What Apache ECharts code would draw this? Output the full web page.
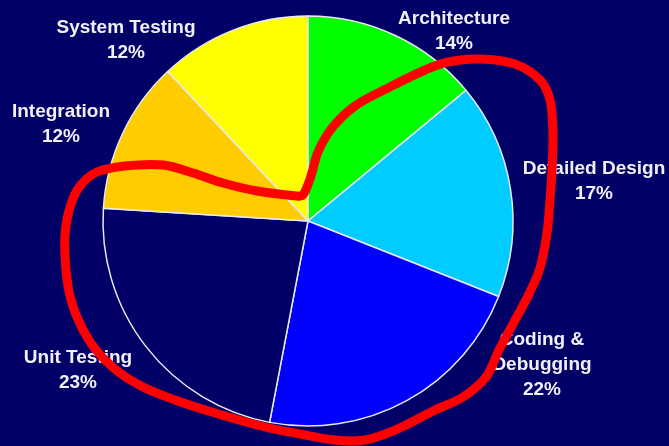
<!DOCTYPE html>
<html>
<head>
<meta charset="utf-8">
<script src="https://cdn.jsdelivr.net/npm/echarts@6/dist/echarts.min.js"></script>
<style>
html,body{margin:0;padding:0;background:#000066;}
#c{width:669px;height:446px;}
</style>
</head>
<body>
<div id="c"></div>
<script>
// Data
var categories = ['Architecture', 'Detailed Design', 'Coding & Debugging', 'Unit Testing', 'Integration', 'System Testing'];
var values = [14, 17, 22, 23, 12, 12];
var sliceColors = ['#00ff00', '#00ccff', '#0000ff', '#000068', '#ffcc00', '#ffff00'];

// Label anchor positions (text block centres), in pixels
var labelPos = [[454, 31], [594, 181], [542, 365], [78, 370], [61, 124], [126, 40]];

// Hand-drawn red annotation loop, in pixels
var annotation = [
  [297,196],[257,191],[223,183],[193,173],[163,165],[125,166],[97,172],[80,186],[70,207],[65,235],
  [66,270],[71,300],[81,326],[96,350],[116,370],[141,386],[175,400],[215,413],[265,427],[300,434],
  [335,440],[365,440],[395,430],[433,411],[463,397],[486,377],[499,350],[514,322],[529,294],[540,268],
  [547,233],[550,200],[552,170],[553,133],[550,100],[540,80],[515,64],[480,59],[448,62],[425,70],
  [390,87],[355,106],[332,128],[318,152],[311,176],[303,195],[297,196]
];

var chart = echarts.init(document.getElementById('c'));
var data = categories.map(function (n, i) {
  return { name: n, value: values[i], itemStyle: { color: sliceColors[i] } };
});

chart.setOption({
  backgroundColor: '#000066',
  animation: false,
  series: [{
    type: 'pie',
    center: [308, 221],
    radius: 205,
    startAngle: 90,
    clockwise: true,
    data: data,
    itemStyle: { borderColor: '#e8e8f0', borderWidth: 1.5 },
    label: {
      show: true,
      position: 'outside',
      color: '#f0f0f6',
      fontFamily: 'Liberation Sans, Arial, sans-serif',
      fontWeight: 'bold',
      fontSize: 19,
      lineHeight: 25,
      align: 'center',
      overflow: 'none',
      width: 300,
      formatter: function (p) {
        return p.name.replace(' & ', ' &\n') + '\n' + p.value + '%';
      }
    },
    labelLine: { show: false },
    labelLayout: function (p) {
      var pos = labelPos[p.dataIndex];
      return { x: pos[0], y: pos[1], align: 'center', verticalAlign: 'middle' };
    },
    emphasis: { disabled: true }
  }],
  graphic: [{
    type: 'polyline',
    z: 100,
    silent: true,
    shape: { points: annotation, smooth: 0.35 },
    style: { stroke: '#ff0000', lineWidth: 9, fill: null, lineJoin: 'round', lineCap: 'round' }
  }]
});
</script>
</body>
</html>
